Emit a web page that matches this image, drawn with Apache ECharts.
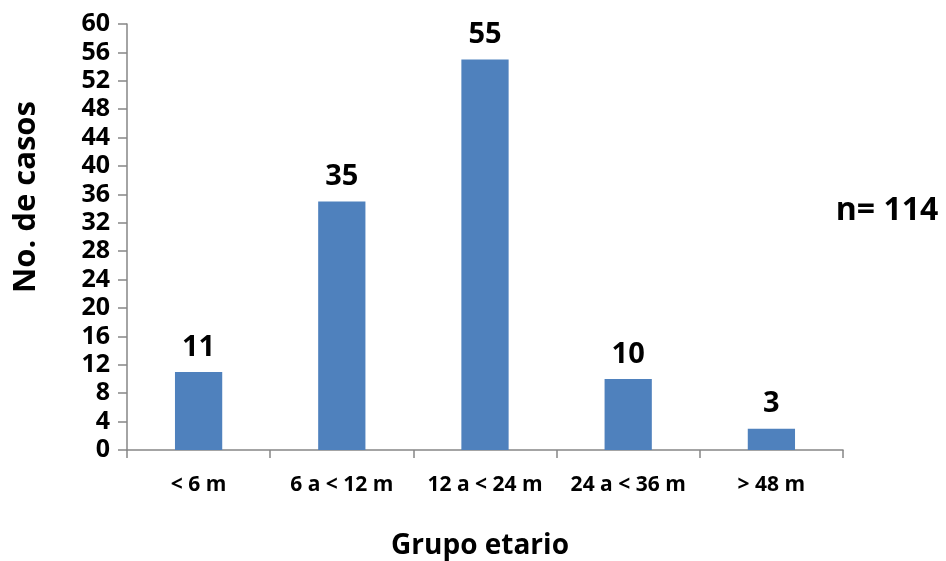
<!DOCTYPE html>
<html>
<head>
<meta charset="utf-8">
<script src="https://cdn.jsdelivr.net/npm/echarts@6/dist/echarts.min.js"></script>
<style>
  html, body { margin: 0; padding: 0; background: #fff; }
  #chart { width: 946px; height: 561px; }
</style>
</head>
<body>
<div id="chart"></div>
<script>
// Age groups and number of cases
const categories = ['< 6 m', '6 a < 12 m', '12 a < 24 m', '24 a < 36 m', '> 48 m'];
const cases = [11, 35, 55, 10, 3];
const totalLabel = 'n= 114';

const FONT = '"Open Sans", Lato, sans-serif';
const axisGray = '#868686';

const chart = echarts.init(document.getElementById('chart'));
chart.setOption({
  animation: false,
  grid: { left: 127, right: 103, top: 24, bottom: 111, containLabel: false },
  xAxis: {
    type: 'category',
    data: categories,
    axisLine: { lineStyle: { color: axisGray, width: 1.5 } },
    axisTick: { show: true, length: 8, alignWithLabel: false, lineStyle: { color: axisGray, width: 1.5 } },
    axisLabel: { interval: 0, hideOverlap: false, color: '#000', fontFamily: FONT, fontWeight: 'bold', fontSize: 21, margin: 25 }
  },
  yAxis: {
    type: 'value',
    min: 0, max: 60, interval: 4,
    axisLine: { show: true, lineStyle: { color: axisGray, width: 1.5 } },
    axisTick: { show: true, length: 9, lineStyle: { color: axisGray, width: 1.5 } },
    splitLine: { show: false },
    axisLabel: { color: '#000', fontFamily: FONT, fontWeight: 'bold', fontSize: 25, margin: 17 }
  },
  series: [{
    type: 'bar',
    data: cases,
    barWidth: '33%',
    itemStyle: { color: '#4F81BD' },
    label: {
      show: true, position: 'top', distance: 10,
      color: '#000', fontFamily: FONT, fontWeight: 'bold', fontSize: 29
    }
  }],
  graphic: [
    {
      type: 'text', x: 887, y: 211,
      style: { text: totalLabel, fill: '#000', font: 'bold 32px ' + FONT, align: 'center', verticalAlign: 'middle' }
    },
    {
      type: 'text', x: 26, y: 197, rotation: Math.PI / 2,
      style: { text: 'No. de casos', fill: '#000', font: 'bold 31px ' + FONT, align: 'center', verticalAlign: 'middle' }
    },
    {
      type: 'text', x: 480, y: 546,
      style: { text: 'Grupo etario', fill: '#000', font: 'bold 28px ' + FONT, align: 'center', verticalAlign: 'middle' }
    }
  ]
});
</script>
</body>
</html>
